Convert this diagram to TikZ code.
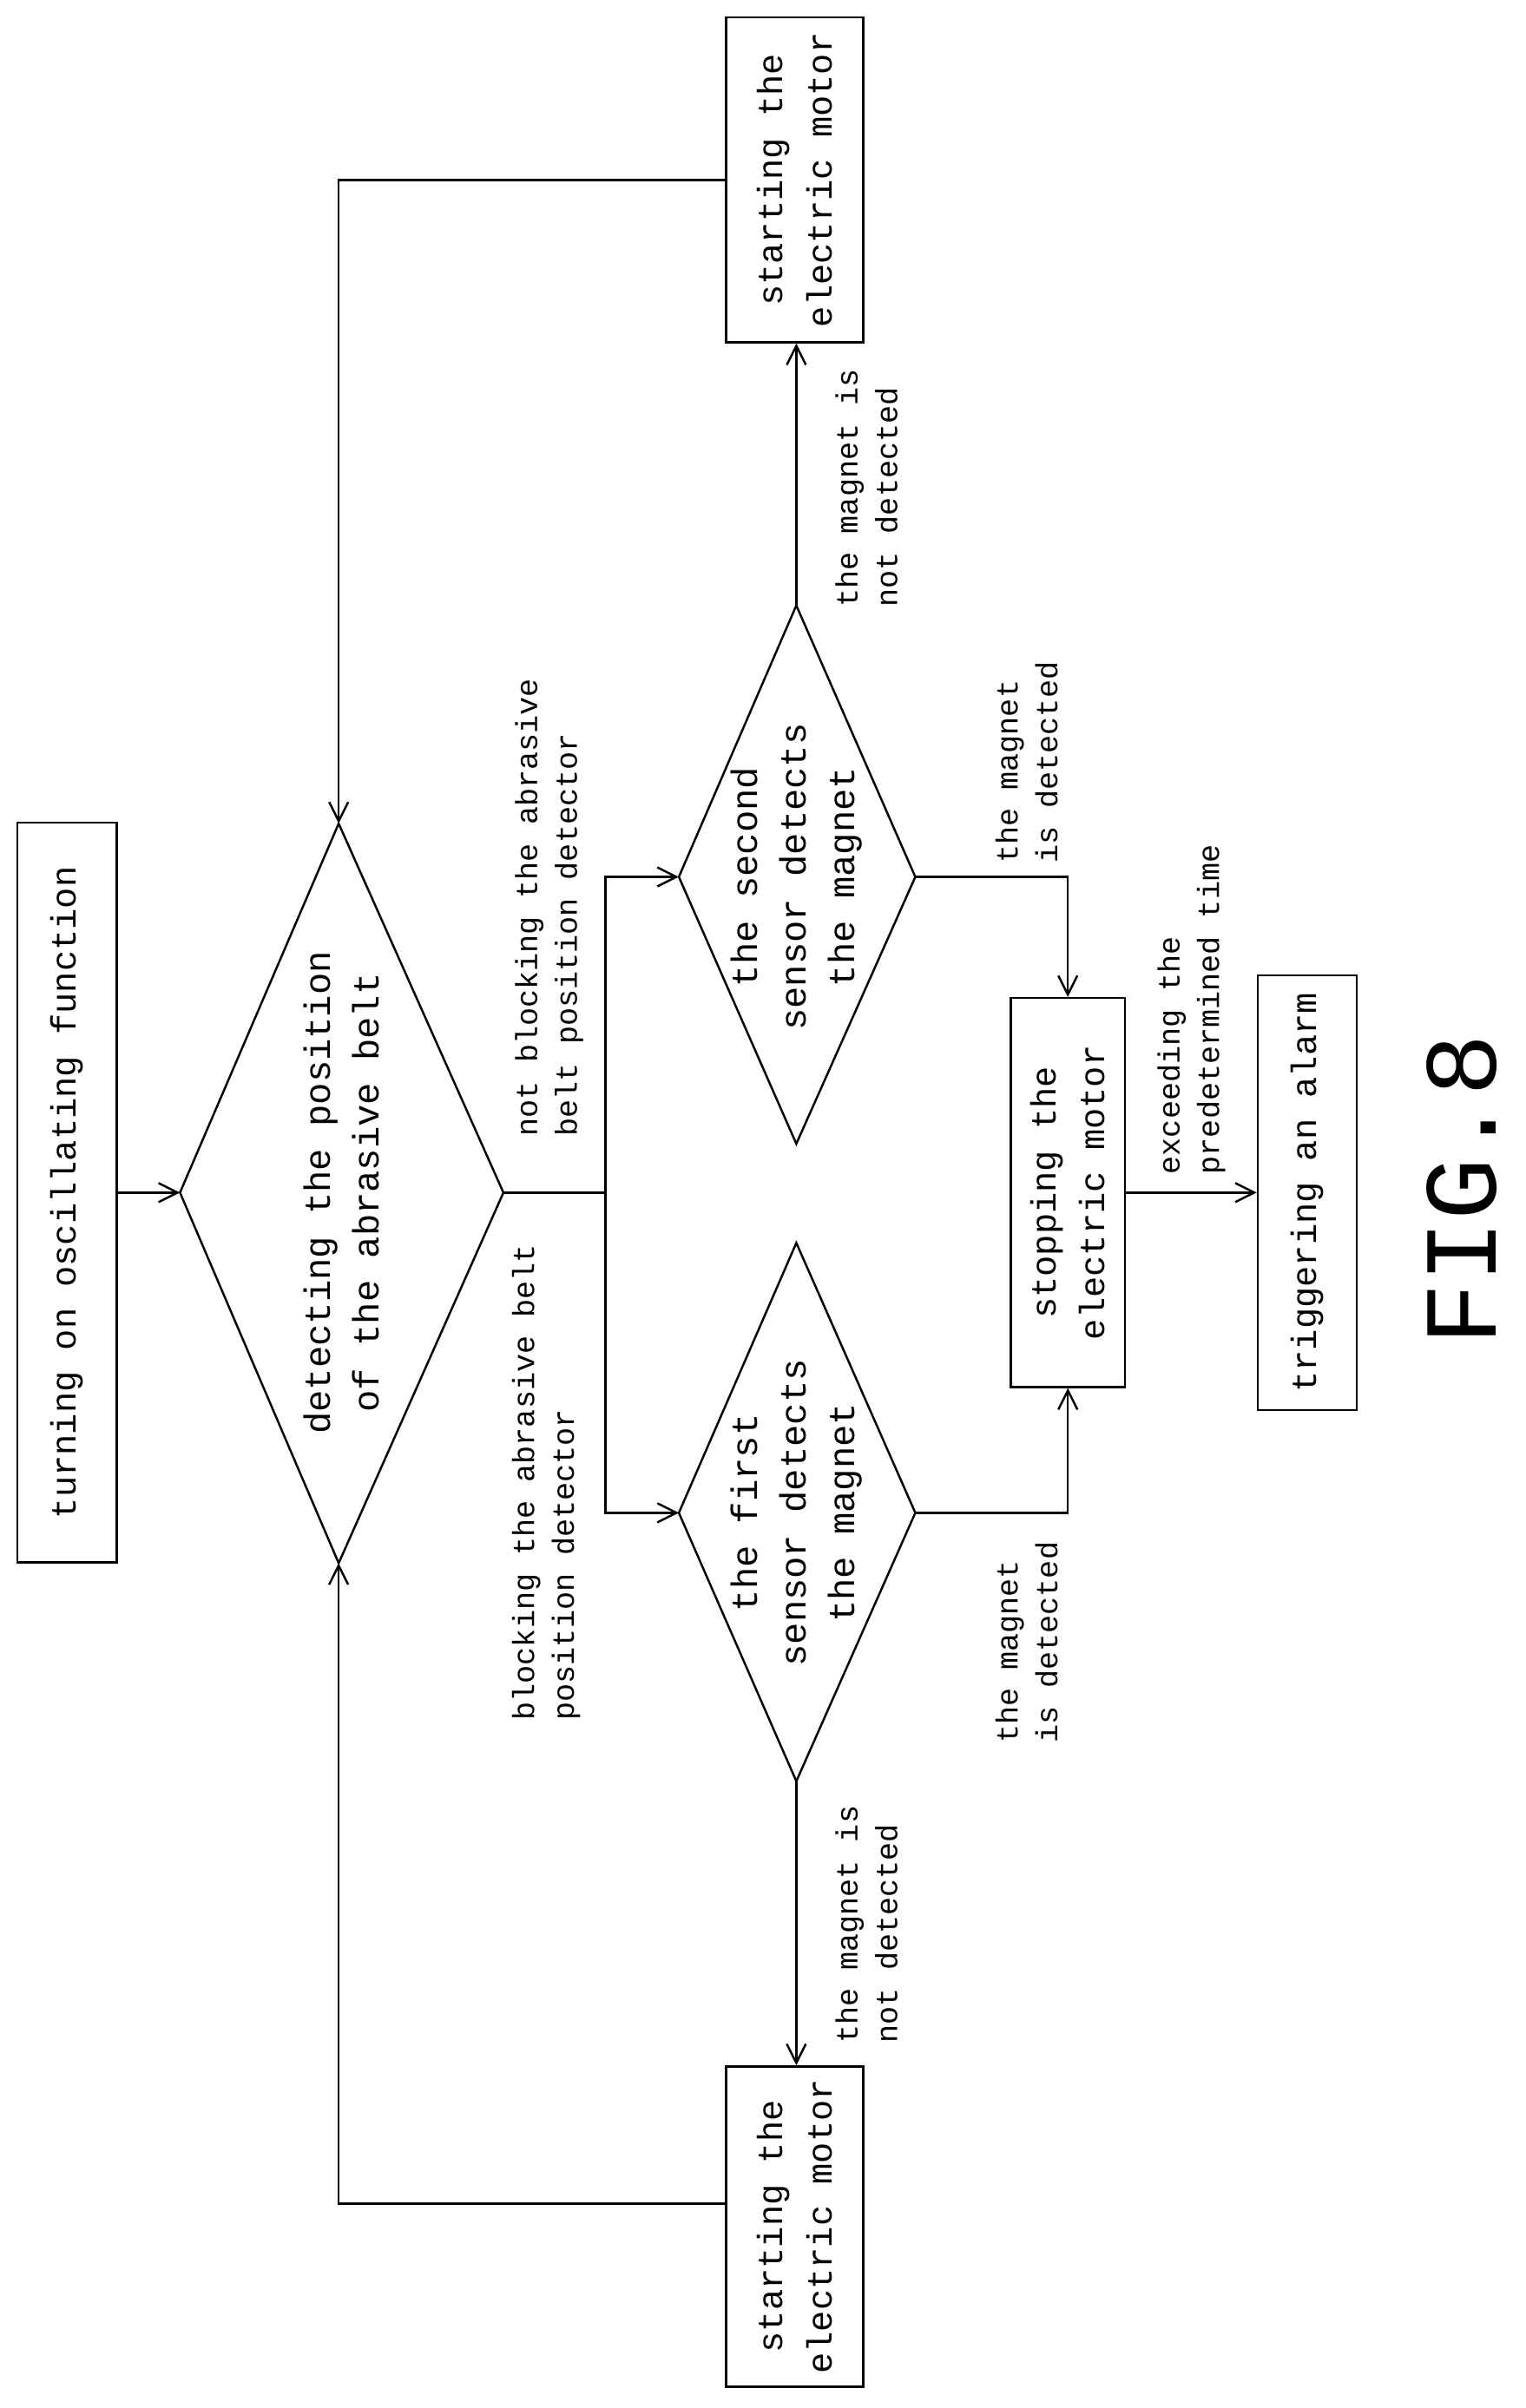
\documentclass[tikz,border=0pt]{standalone}
\usepackage{fontspec}
\setmainfont{Liberation Mono}
\usetikzlibrary{arrows.meta}
\begin{document}
\begin{tikzpicture}[x=0.1758mm,y=-0.1758mm,
  box/.style={draw,line width=0.7pt,rotate=90,inner sep=0pt,align=center,font=\fontsize{11.5}{16}\selectfont},
  lab/.style={rotate=90,align=left,font=\fontsize{10}{13}\selectfont},
  dtext/.style={rotate=90,align=center,font=\fontsize{12}{16}\selectfont},
  arr/.style={line width=0.7pt,-{Straight Barb[length=2.2mm,width=2.2mm]}},
  ln/.style={line width=0.7pt}]
\useasboundingbox (0,0) rectangle (1000,1579);
\node[box,minimum width=485*0.1758mm,minimum height=65*0.1758mm] (start) at (44,782) {turning on oscillating function};
\node[box,minimum width=213*0.1758mm,minimum height=90*0.1758mm] (motA) at (521,118) {starting the\\electric motor};
\node[box,minimum width=210*0.1758mm,minimum height=90*0.1758mm] (motB) at (521,1460) {starting the\\electric motor};
\node[box,minimum width=255*0.1758mm,minimum height=75*0.1758mm] (stop) at (700,782) {stopping the\\electric motor};
\node[box,minimum width=285*0.1758mm,minimum height=65*0.1758mm] (alarm) at (857,782) {triggering an alarm};
\coordinate (d1l) at (118,782); \coordinate (d1r) at (330,782);
\coordinate (d1t) at (222,540); \coordinate (d1b) at (222,1025);
\draw[ln] (d1l)--(d1t)--(d1r)--(d1b)--cycle;
\node[dtext] (d1) at (224,782) {detecting the position\\of the abrasive belt};
\coordinate (d2l) at (445,575); \coordinate (d2r) at (600,575);
\coordinate (d2t) at (522,397); \coordinate (d2b) at (522,750);
\draw[ln] (d2l)--(d2t)--(d2r)--(d2b)--cycle;
\node[dtext] (d2) at (522,575) {the second\\sensor detects\\the magnet};
\coordinate (d3l) at (445,992); \coordinate (d3r) at (600,992);
\coordinate (d3t) at (522,815); \coordinate (d3b) at (522,1168);
\draw[ln] (d3l)--(d3t)--(d3r)--(d3b)--cycle;
\node[dtext] (d3) at (522,992) {the first\\sensor detects\\the magnet};
\draw[arr] (start.south) -- (d1l);
\coordinate (sp) at (397,782);
\draw[ln] (d1r) -- (sp);
\draw[arr] (sp) |- (d2l);
\draw[arr] (sp) |- (d3l);
\draw[arr] (d2t) -- (d2t |- motA.west);
\draw[arr] (d3b) -- (d3b |- motB.east);
\draw[arr] (motA.north) -| (d1t);
\draw[arr] (motB.north |- 0,1445) -| (d1b);
\draw[arr] (d2r) -| (stop.east);
\draw[arr] (d3r) -| (stop.west);
\draw[arr] (stop.south) -- (alarm.north);
\node[lab] (l1) at (360,595) {not blocking the abrasive\\belt position detector};
\node[lab] (l2) at (358,972) {blocking the abrasive belt\\position detector};
\node[lab] (l3) at (568,320) {the magnet is\\not detected};
\node[lab] (l4) at (568,1262) {the magnet is\\not detected};
\node[lab] (l5) at (673,500) {the magnet\\is detected};
\node[lab] (l6) at (673,1077) {the magnet\\is detected};
\node[lab] (l7) at (781,662) {exceeding the\\predetermined time};
\node[rotate=90,font=\fontsize{34}{34}\selectfont] (fig) at (958,780) {FIG.8};
\end{tikzpicture}
\end{document}
